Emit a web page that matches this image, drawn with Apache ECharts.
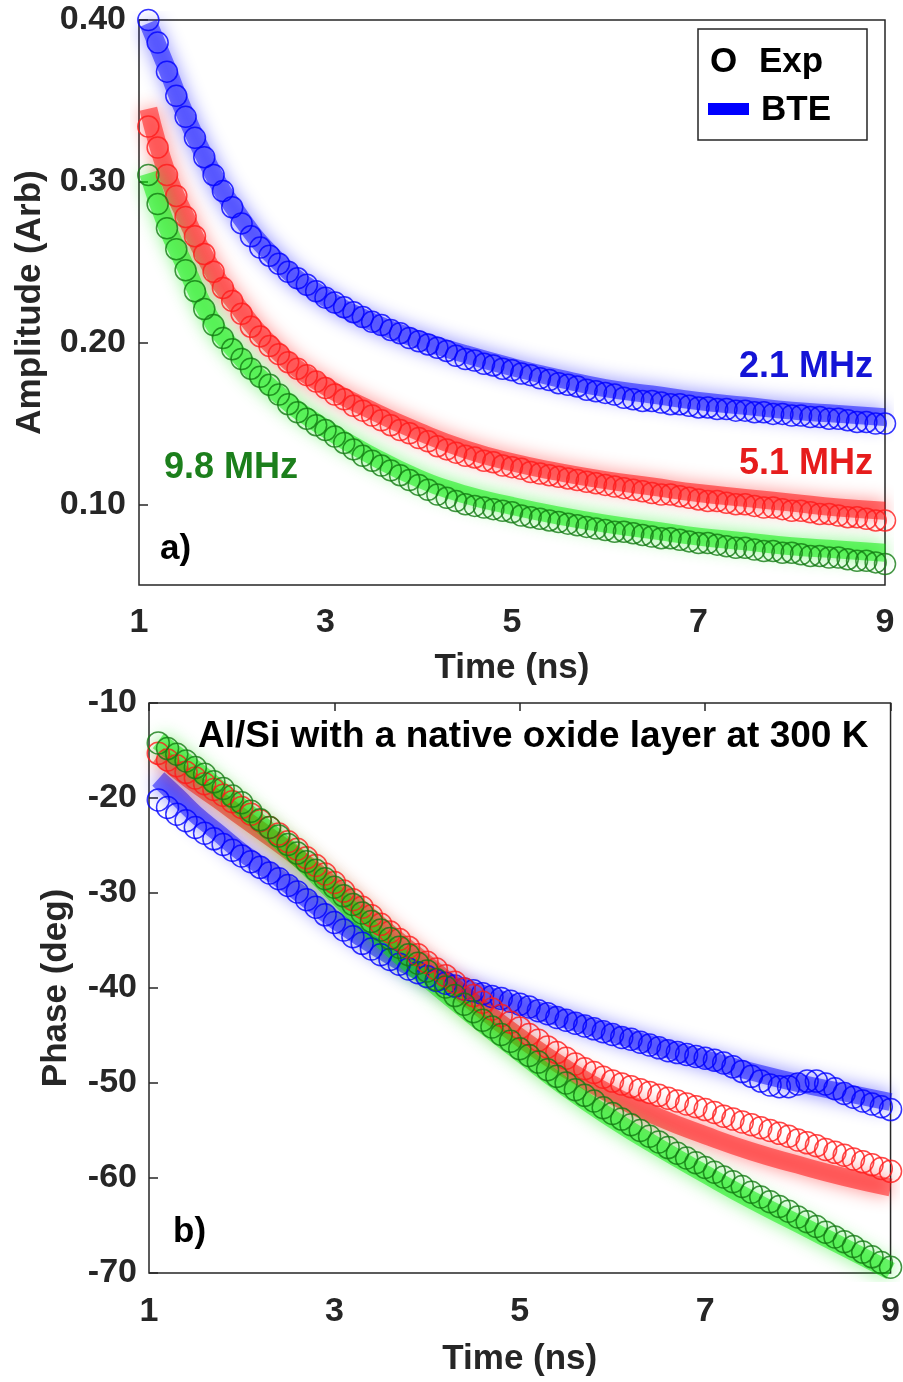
<!DOCTYPE html>
<html>
<head>
<meta charset="utf-8">
<script src="https://cdn.jsdelivr.net/npm/echarts@6/dist/echarts.min.js"></script>
<style>
html,body{margin:0;padding:0;background:#fff;}
#chart{width:903px;height:1382px;}
</style>
</head>
<body>
<div id="chart"></div>
<script>
// ---------- data ----------
const time = [1.1,1.2,1.3,1.4,1.5,1.6,1.7,1.8,1.9,2.0,2.1,2.2,2.3,2.4,2.5,2.6,2.7,2.8,2.9,3.0,
  3.1,3.2,3.3,3.4,3.5,3.6,3.7,3.8,3.9,4.0,4.1,4.2,4.3,4.4,4.5,4.6,4.7,4.8,4.9,5.0,
  5.1,5.2,5.3,5.4,5.5,5.6,5.7,5.8,5.9,6.0,6.1,6.2,6.3,6.4,6.5,6.6,6.7,6.8,6.9,7.0,
  7.1,7.2,7.3,7.4,7.5,7.6,7.7,7.8,7.9,8.0,8.1,8.2,8.3,8.4,8.5,8.6,8.7,8.8,8.9,9.0];

// Amplitude, experiment (circles)
const ampExp21 = [0.400,0.386,0.368,0.353,0.340,0.327,0.315,0.304,0.294,0.284,0.274,0.266,0.259,0.254,0.249,0.244,0.240,0.236,0.232,0.228,
  0.225,0.222,0.219,0.216,0.213,0.211,0.208,0.206,0.203,0.201,0.199,0.197,0.195,0.192,0.190,0.189,0.187,0.186,0.184,0.183,
  0.181,0.180,0.178,0.177,0.175,0.174,0.173,0.171,0.170,0.169,0.168,0.166,0.165,0.164,0.164,0.163,0.162,0.162,0.161,0.160,
  0.160,0.159,0.159,0.158,0.158,0.157,0.157,0.156,0.156,0.155,0.155,0.154,0.154,0.153,0.153,0.152,0.151,0.151,0.150,0.150];
const ampExp51 = [0.334,0.321,0.304,0.291,0.278,0.266,0.255,0.244,0.234,0.226,0.218,0.210,0.204,0.198,0.193,0.188,0.184,0.180,0.176,0.172,
  0.168,0.165,0.161,0.158,0.155,0.152,0.149,0.146,0.144,0.141,0.139,0.136,0.134,0.132,0.130,0.129,0.127,0.126,0.124,0.123,
  0.122,0.120,0.119,0.118,0.117,0.116,0.115,0.114,0.113,0.112,0.111,0.110,0.109,0.108,0.107,0.106,0.106,0.105,0.104,0.103,
  0.102,0.102,0.101,0.100,0.100,0.099,0.098,0.098,0.097,0.096,0.096,0.095,0.094,0.094,0.093,0.092,0.092,0.091,0.090,0.090];
const ampExp98 = [0.304,0.286,0.271,0.258,0.245,0.232,0.221,0.211,0.203,0.196,0.190,0.184,0.179,0.174,0.168,0.162,0.157,0.153,0.149,0.146,
  0.142,0.138,0.134,0.130,0.127,0.124,0.121,0.118,0.115,0.112,0.109,0.106,0.104,0.102,0.100,0.099,0.098,0.097,0.096,0.095,
  0.093,0.092,0.091,0.090,0.089,0.088,0.087,0.086,0.085,0.084,0.083,0.083,0.082,0.081,0.080,0.079,0.079,0.078,0.077,0.076,
  0.076,0.075,0.074,0.073,0.073,0.072,0.071,0.071,0.070,0.070,0.069,0.068,0.068,0.067,0.067,0.066,0.065,0.065,0.064,0.063];

// Phase, experiment (circles)
const phaseExp21 = [-20.2,-21.0,-21.7,-22.4,-23.1,-23.7,-24.3,-24.9,-25.5,-26.1,-26.7,-27.3,-27.9,-28.5,-29.2,-29.9,-30.7,-31.5,-32.3,-33.1,
  -33.9,-34.6,-35.3,-35.9,-36.5,-37.0,-37.5,-38.0,-38.4,-38.8,-39.2,-39.5,-39.8,-40.1,-40.3,-40.6,-40.9,-41.1,-41.4,-41.7,
  -42.0,-42.4,-42.7,-43.1,-43.4,-43.7,-44.0,-44.3,-44.6,-44.9,-45.2,-45.4,-45.7,-46.0,-46.3,-46.6,-46.8,-47.0,-47.2,-47.4,
  -47.6,-47.9,-48.3,-48.8,-49.3,-49.8,-50.2,-50.4,-50.4,-50.1,-49.8,-49.8,-50.1,-50.6,-51.1,-51.5,-51.9,-52.2,-52.5,-52.8];
const phaseExp51 = [-15.3,-16.0,-16.6,-17.3,-17.9,-18.5,-19.1,-19.7,-20.4,-21.0,-21.7,-22.4,-23.1,-23.8,-24.6,-25.4,-26.3,-27.1,-28.0,-28.9,
  -29.8,-30.7,-31.5,-32.4,-33.3,-34.1,-34.9,-35.7,-36.5,-37.3,-38.0,-38.7,-39.4,-40.1,-40.8,-41.5,-42.2,-42.9,-43.6,-44.2,
  -44.9,-45.5,-46.2,-46.8,-47.4,-48.0,-48.5,-48.9,-49.4,-49.8,-50.1,-50.4,-50.7,-51.0,-51.3,-51.6,-51.9,-52.2,-52.5,-52.8,
  -53.1,-53.5,-53.8,-54.1,-54.4,-54.7,-55.0,-55.3,-55.6,-56.0,-56.3,-56.6,-57.0,-57.3,-57.6,-58.0,-58.3,-58.6,-59.0,-59.3];
const phaseExp98 = [-14.2,-14.8,-15.4,-16.1,-16.8,-17.5,-18.3,-19.0,-19.8,-20.5,-21.4,-22.3,-23.1,-24.0,-24.9,-25.8,-26.7,-27.6,-28.5,-29.4,
  -30.3,-31.2,-32.1,-33.0,-33.9,-34.8,-35.7,-36.5,-37.4,-38.2,-39.1,-39.9,-40.8,-41.7,-42.5,-43.4,-44.1,-44.9,-45.6,-46.4,
  -47.1,-47.8,-48.6,-49.3,-50.0,-50.7,-51.3,-51.9,-52.6,-53.2,-53.8,-54.4,-55.0,-55.6,-56.2,-56.8,-57.4,-57.9,-58.4,-58.9,
  -59.4,-59.9,-60.4,-60.9,-61.5,-62.0,-62.5,-63.0,-63.5,-64.1,-64.6,-65.1,-65.7,-66.2,-66.7,-67.2,-67.8,-68.3,-68.9,-69.4];

// BTE model curves
const bteTime = [1.1,1.3,1.5,1.75,2.0,2.5,3.0,3.5,4.0,4.5,5.0,5.5,6.0,6.5,7.0,7.5,8.0,8.5,9.0];
const ampBte21 = [0.398,0.370,0.341,0.310,0.285,0.250,0.228,0.213,0.202,0.193,0.185,0.178,0.172,0.168,0.164,0.161,0.158,0.156,0.154];
const ampBte51 = [0.345,0.305,0.278,0.249,0.227,0.194,0.173,0.158,0.145,0.134,0.126,0.120,0.115,0.111,0.107,0.104,0.101,0.098,0.096];
const ampBte98 = [0.305,0.272,0.247,0.217,0.197,0.168,0.147,0.130,0.116,0.106,0.099,0.093,0.088,0.084,0.080,0.077,0.074,0.072,0.070];
const phaseBte21 = [-18.0,-19.8,-21.7,-23.7,-25.7,-29.1,-32.8,-36.0,-38.6,-40.3,-41.8,-43.3,-44.8,-46.2,-47.5,-48.8,-50.0,-51.0,-52.0];
const phaseBte51 = [-15.5,-17.0,-18.5,-20.2,-22.0,-25.5,-29.3,-33.5,-37.5,-41.5,-45.2,-48.5,-51.3,-53.6,-55.5,-57.2,-58.6,-59.9,-61.0];
const phaseBte98 = [-14.0,-15.5,-17.0,-19.0,-21.0,-25.3,-30.0,-34.8,-39.0,-43.0,-46.8,-50.5,-53.8,-56.8,-59.6,-62.3,-64.8,-67.3,-69.8];

// tick labels
const timeTicks = [1,3,5,7,9];
const ampTicks = [0.1,0.2,0.3,0.4];
const phaseTicks = [-70,-60,-50,-40,-30,-20,-10];

// ---------- chart ----------
const FONT = "'Liberation Sans', Arial, Helvetica, sans-serif";
const AX = '#262626';
const zip = (xs, ys) => xs.map((x, i) => [x, ys[i]]);

const bandColors = { b: [0,0,255], r: [255,0,0], g: [0,235,0] };
const circColors = { b: '#0000ff', r: '#ff1a1a', g: '#137a13' };

function band(key, xs, ys, gi) {
  const c = bandColors[key];
  return {
    type: 'line', xAxisIndex: gi === 0 ? 0 : 1, yAxisIndex: gi,
    data: zip(xs, ys), smooth: true, symbol: 'none', silent: true,
    lineStyle: {
      width: 18, color: `rgba(${c[0]},${c[1]},${c[2]},0.5)`,
      shadowBlur: 18, shadowColor: `rgba(${c[0]},${c[1]},${c[2]},0.9)`, cap: 'butt'
    },
    z: 2
  };
}
function circles(key, ys, gi, size) {
  return {
    type: 'scatter', xAxisIndex: gi === 0 ? 0 : 1, yAxisIndex: gi,
    data: zip(time, ys), symbol: 'circle', symbolSize: size, clip: false, silent: true,
    itemStyle: { color: 'rgba(0,0,0,0)', borderColor: circColors[key], borderWidth: 1.5 },
    z: 3
  };
}

const tickLabel = { fontFamily: FONT, fontWeight: 'bold', fontSize: 34, color: AX };
const nameStyle = { fontFamily: FONT, fontWeight: 'bold', fontSize: 35, color: AX };

const option = {
  animation: false,
  backgroundColor: '#fff',
  grid: [
    { left: 139, top: 20, width: 746, height: 565, show: true, borderColor: AX, borderWidth: 1.5, backgroundColor: 'rgba(0,0,0,0)' },
    { left: 149, top: 703, width: 746, height: 570, show: true, borderColor: AX, borderWidth: 1.5, backgroundColor: 'rgba(0,0,0,0)' }
  ],
  xAxis: [
    { type: 'value', gridIndex: 0, min: 1, max: 9,
      axisLine: { show: false }, axisTick: { show: false }, splitLine: { show: false },
      axisLabel: Object.assign({ customValues: timeTicks, margin: 21 }, tickLabel),
      name: 'Time (ns)', nameLocation: 'middle', nameGap: 66, nameTextStyle: nameStyle },
    { type: 'value', gridIndex: 1, min: 1, max: 9,
      axisLine: { show: false }, axisTick: { show: false }, splitLine: { show: false },
      axisLabel: Object.assign({ customValues: timeTicks, margin: 22 }, tickLabel),
      name: 'Time (ns)', nameLocation: 'middle', nameGap: 69, nameTextStyle: nameStyle },
    { type: 'value', gridIndex: 1, min: 1, max: 9, position: 'top',
      axisLine: { show: false }, splitLine: { show: false }, axisLabel: { show: false },
      axisTick: { show: true, inside: true, length: 8, customValues: timeTicks, lineStyle: { color: AX, width: 1.5 } } }
  ],
  yAxis: [
    { type: 'value', gridIndex: 0, min: 0.05, max: 0.40,
      axisLine: { show: false }, splitLine: { show: false },
      axisTick: { show: true, inside: true, length: 9, customValues: ampTicks, lineStyle: { color: AX, width: 1.5 } },
      axisLabel: Object.assign({ customValues: ampTicks, margin: 13, formatter: v => v.toFixed(2) }, tickLabel),
      name: 'Amplitude (Arb)', nameLocation: 'middle', nameGap: 91, nameTextStyle: nameStyle },
    { type: 'value', gridIndex: 1, min: -70, max: -10, interval: 10,
      axisLine: { show: false }, splitLine: { show: false },
      axisTick: { show: true, inside: true, length: 9, customValues: phaseTicks, lineStyle: { color: AX, width: 1.5 } },
      axisLabel: Object.assign({ customValues: phaseTicks, margin: 12 }, tickLabel),
      name: 'Phase (deg)', nameLocation: 'middle', nameGap: 75, nameTextStyle: nameStyle }
  ],
  series: [
    band('b', bteTime, ampBte21, 0), band('r', bteTime, ampBte51, 0), band('g', bteTime, ampBte98, 0),
    circles('b', ampExp21, 0, 21), circles('r', ampExp51, 0, 21), circles('g', ampExp98, 0, 21),
    band('b', bteTime, phaseBte21, 1), band('r', bteTime, phaseBte51, 1), band('g', bteTime, phaseBte98, 1),
    circles('b', phaseExp21, 1, 22), circles('r', phaseExp51, 1, 22), circles('g', phaseExp98, 1, 22)
  ],
  graphic: [
    // legend box
    { type: 'rect', z: 100, shape: { x: 698, y: 29, width: 169, height: 111 },
      style: { fill: '#fff', stroke: AX, lineWidth: 1.5 } },
    { type: 'text', z: 101, x: 710, y: 62, style: { text: 'O', font: `bold 35px ${FONT}`, fill: '#000', verticalAlign: 'middle' } },
    { type: 'text', z: 101, x: 759, y: 62, style: { text: 'Exp', font: `bold 35px ${FONT}`, fill: '#000', verticalAlign: 'middle' } },
    { type: 'rect', z: 101, shape: { x: 708, y: 103, width: 41, height: 12 }, style: { fill: '#0000ff' } },
    { type: 'text', z: 101, x: 761, y: 110, style: { text: 'BTE', font: `bold 35px ${FONT}`, fill: '#000', verticalAlign: 'middle' } },
    // annotations
    { type: 'text', z: 101, x: 739, y: 367, style: { text: '2.1 MHz', font: `bold 36px ${FONT}`, fill: '#1414d6', verticalAlign: 'middle' } },
    { type: 'text', z: 101, x: 739, y: 464, style: { text: '5.1 MHz', font: `bold 36px ${FONT}`, fill: '#e61c1c', verticalAlign: 'middle' } },
    { type: 'text', z: 101, x: 164, y: 468, style: { text: '9.8 MHz', font: `bold 36px ${FONT}`, fill: '#1c7f1c', verticalAlign: 'middle' } },
    { type: 'text', z: 101, x: 160, y: 549, style: { text: 'a)', font: `bold 35px ${FONT}`, fill: '#000', verticalAlign: 'middle' } },
    { type: 'text', z: 101, x: 173, y: 1232, style: { text: 'b)', font: `bold 35px ${FONT}`, fill: '#000', verticalAlign: 'middle' } },
    { type: 'text', z: 101, x: 198, y: 737, style: { text: 'Al/Si with a native oxide layer at 300 K', font: `bold 37px ${FONT}`, fill: '#000', verticalAlign: 'middle' } }
  ]
};

const chart = echarts.init(document.getElementById('chart'), null, { renderer: 'canvas', width: 903, height: 1382 });
chart.setOption(option);
</script>
</body>
</html>
